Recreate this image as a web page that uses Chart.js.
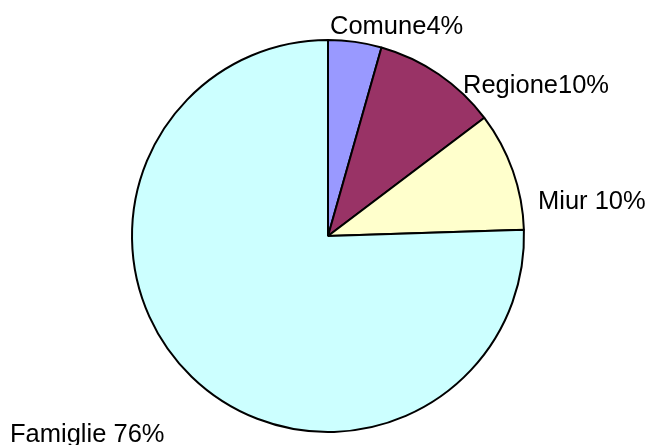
<!DOCTYPE html>
<html>
<head>
<meta charset="utf-8">
<script src="https://cdn.jsdelivr.net/npm/chart.js@4/dist/chart.umd.min.js"></script>
<style>
  html, body { margin: 0; padding: 0; background: #fff; }
  #pie { display: block; }
</style>
</head>
<body>
<canvas id="pie" width="650" height="445"></canvas>
<script>
// values, labels as printed on the chart
const categories = ["Comune", "Regione", "Miur", "Famiglie"];
const shares = [4.4, 10.3, 9.8, 75.5];
const labelText = ["Comune4%", "Regione10%", "Miur 10%", "Famiglie 76%"];
const sliceColors = ["#9999FF", "#993366", "#FFFFCC", "#CCFFFF"];

// where each label sits, relative to the pie centre (left edge, baseline)
const labelOffsets = [[2, -202], [135, -143], [210, -27], [-318, 206]];

const outsideLabels = {
  id: "outsideLabels",
  afterDatasetsDraw(chart) {
    const ctx = chart.ctx;
    const arcs = chart.getDatasetMeta(0).data;
    ctx.save();
    ctx.font = "25.5px 'Liberation Sans', Arial, sans-serif";
    ctx.fillStyle = "#000";
    ctx.textAlign = "left";
    ctx.textBaseline = "alphabetic";
    arcs.forEach((arc, i) => {
      const off = labelOffsets[i];
      ctx.fillText(labelText[i], arc.x + off[0], arc.y + off[1]);
    });
    ctx.restore();
  }
};

const pie = document.getElementById("pie").getContext("2d");
new Chart(pie, {
  type: "pie",
  data: {
    labels: categories,
    datasets: [
      {
        data: shares,
        backgroundColor: sliceColors,
        hoverBackgroundColor: sliceColors,
        borderColor: "#000",
        borderWidth: 2,
        radius: 196,
      },
    ],
  },
  options: {
    responsive: false,
    animation: false,
    layout: { padding: { left: 26, right: 20, top: 30, bottom: 3 } },
    plugins: {
      legend: { display: false },
      tooltip: { enabled: false },
    },
  },
  plugins: [outsideLabels],
});
</script>
</body>
</html>
